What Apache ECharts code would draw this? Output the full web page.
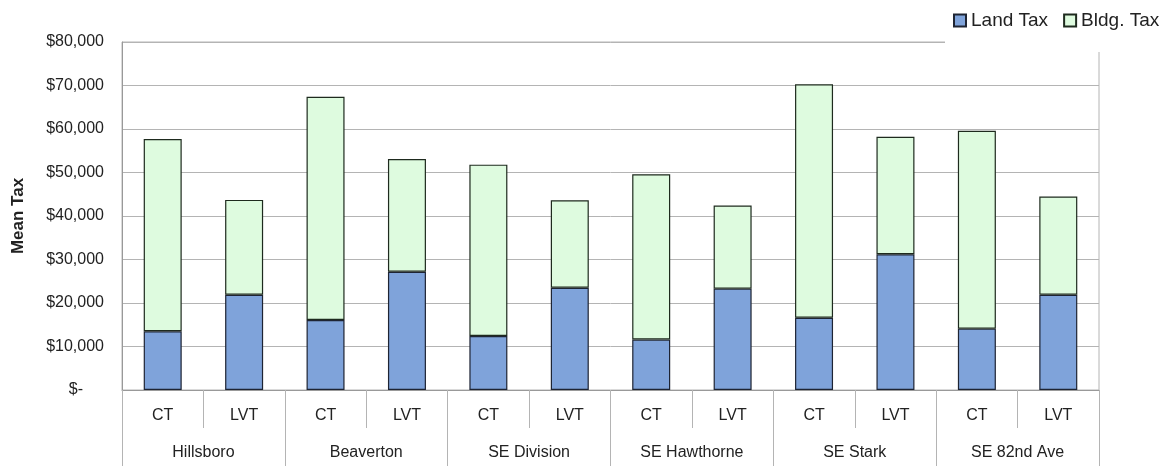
<!DOCTYPE html>
<html>
<head>
<meta charset="utf-8">
<script src="https://cdn.jsdelivr.net/npm/echarts@6/dist/echarts.min.js"></script>
<style>
  html, body { margin: 0; padding: 0; background: #fff; }
  #chart { width: 1175px; height: 466px; }
</style>
</head>
<body>
<div id="chart"></div>
<script>
// Mean tax per corridor, current tax (CT) vs land value tax (LVT)
const cities = ['Hillsboro', 'Beaverton', 'SE Division', 'SE Hawthorne', 'SE Stark', 'SE 82nd Ave'];
const scenarios = ['CT', 'LVT'];
const landTax = [13500, 21900, 16100, 27200, 12400, 23500, 11600, 23300, 16600, 31200, 14100, 21900];
const bldgTax = [44200, 21800, 51300, 25900, 39400, 20100, 38000, 19100, 53700, 27000, 45500, 22600];
const yTicks = { min: 0, max: 80000, step: 10000 };

const innerCats = [];
cities.forEach(() => scenarios.forEach(s => innerCats.push(s)));

const FONT = '"Liberation Sans", Arial, sans-serif';
const GRID_COLOR = '#b4b4b4';
const TEXT = '#222';

function money(v) {
  if (v === 0) return '{z|$-}';
  return '$' + v.toLocaleString('en-US');
}

const chart = echarts.init(document.getElementById('chart'));
chart.setOption({
  animation: false,
  textStyle: { fontFamily: FONT },
  legend: {
    left: 945, top: 0,
    padding: [11, 10, 22, 8],
    backgroundColor: '#fff',
    itemWidth: 12, itemHeight: 12, itemGap: 15,
    icon: 'rect',
    textStyle: { fontSize: 19, color: TEXT, fontFamily: FONT },
    data: ['Land Tax', 'Bldg. Tax']
  },
  grid: {
    left: 122, right: 76, top: 42, bottom: 76,
    show: true, borderColor: GRID_COLOR, borderWidth: 1
  },
  xAxis: [
    {
      type: 'category', data: innerCats, position: 'bottom',
      axisLine: { show: true, lineStyle: { color: '#999' } },
      axisTick: { show: true, interval: 0, length: 38, lineStyle: { color: GRID_COLOR } },
      axisLabel: { interval: 0, margin: 18, fontSize: 16, color: TEXT }
    },
    {
      type: 'category', data: cities, position: 'bottom',
      axisLine: { show: false },
      axisTick: { show: true, interval: 0, length: 76, lineStyle: { color: GRID_COLOR } },
      axisLabel: { interval: 0, margin: 55, fontSize: 16, color: TEXT }
    }
  ],
  yAxis: {
    type: 'value', min: yTicks.min, max: yTicks.max, interval: yTicks.step,
    name: 'Mean Tax', nameLocation: 'middle', nameGap: 95,
    nameTextStyle: { fontSize: 17, fontWeight: 'bold', color: TEXT },
    axisLine: { show: true, lineStyle: { color: '#999' } },
    axisTick: { show: false },
    splitLine: { show: true, lineStyle: { color: GRID_COLOR } },
    axisLabel: {
      fontSize: 16, color: TEXT, margin: 18,
      formatter: money,
      rich: { z: { fontSize: 16, color: TEXT, padding: [0, 21, 0, 0] } }
    }
  },
  series: [
    {
      name: 'Land Tax', type: 'bar', stack: 'tax', barWidth: 38,
      xAxisIndex: 0,
      itemStyle: { color: '#7fa3da', borderColor: '#1e2433', borderWidth: 1.2 },
      data: landTax
    },
    {
      name: 'Bldg. Tax', type: 'bar', stack: 'tax', barWidth: 38,
      xAxisIndex: 0,
      itemStyle: { color: '#defbdf', borderColor: '#1e2a1e', borderWidth: 1.2 },
      data: bldgTax
    }
  ]
});
</script>
</body>
</html>
